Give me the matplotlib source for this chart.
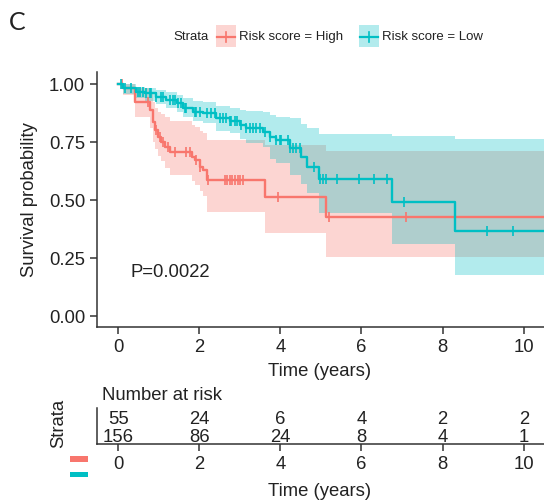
import numpy as np
import matplotlib
matplotlib.use("Agg")
import matplotlib.pyplot as plt
from matplotlib.patches import Rectangle
from matplotlib.lines import Line2D

plt.rcParams['font.family'] = ['Liberation Sans', 'DejaVu Sans']

# --- values ---
strata = ['Risk score = High', 'Risk score = Low']
colors = ['#F8766D', '#00BFC4']

high_t = [0, 0.12, 0.41, 0.78, 0.85, 0.90, 0.99, 1.07, 1.15, 1.27, 1.81, 1.89, 2.01, 2.10, 2.19, 3.61, 5.13]
high_s = [1.0, 0.985, 0.925, 0.889, 0.839, 0.803, 0.774, 0.753, 0.728, 0.710, 0.688, 0.674, 0.645, 0.631, 0.588, 0.515, 0.427]
high_lo = [1.0, 0.955, 0.86, 0.81, 0.75, 0.72, 0.69, 0.67, 0.64, 0.61, 0.585, 0.565, 0.54, 0.52, 0.45, 0.358, 0.257]
high_hi = [1.0, 1.0, 0.985, 0.96, 0.925, 0.90, 0.88, 0.87, 0.86, 0.84, 0.825, 0.815, 0.80, 0.79, 0.76, 0.738, 0.714]
high_cens = [0.09, 0.74, 0.94, 1.03, 1.11, 1.23, 1.40, 1.68, 1.77, 1.93, 2.01, 2.22, 2.63, 2.68, 2.75,
             2.81, 2.88, 2.95, 3.01, 3.08, 3.94, 5.20, 7.10]

low_t = [0, 0.12, 0.45, 0.66, 0.94, 1.19, 1.44, 1.60, 1.85, 2.09, 2.42, 2.75, 3.00, 3.16, 3.57, 3.74,
         3.90, 4.23, 4.50, 4.66, 4.96, 6.76, 8.31]
low_s = [1.0, 0.983, 0.968, 0.961, 0.947, 0.932, 0.918, 0.897, 0.882, 0.875, 0.853, 0.843, 0.825, 0.810,
         0.796, 0.774, 0.760, 0.724, 0.688, 0.642, 0.592, 0.491, 0.369]
low_lo = [1.0, 0.96, 0.94, 0.93, 0.915, 0.897, 0.88, 0.86, 0.843, 0.835, 0.80, 0.79, 0.765, 0.745, 0.73,
          0.68, 0.66, 0.61, 0.57, 0.53, 0.444, 0.312, 0.178]
low_hi = [1.0, 1.0, 0.99, 0.985, 0.975, 0.965, 0.955, 0.94, 0.93, 0.922, 0.905, 0.897, 0.89, 0.886,
          0.882, 0.868, 0.858, 0.853, 0.83, 0.81, 0.786, 0.777, 0.764]
low_cens = [0.08, 0.16, 0.33, 0.49, 0.53, 0.62, 0.70, 0.78, 0.82, 0.94, 1.07, 1.11, 1.27, 1.36, 1.40,
            1.48, 1.56, 1.64, 1.68, 1.89, 1.93, 2.01, 2.18, 2.30, 2.38, 2.51, 2.59, 2.67, 2.75, 2.79,
            2.87, 2.92, 3.04, 3.16, 3.24, 3.33, 3.41, 3.49, 3.61, 3.74, 3.90, 3.98, 4.02, 4.19, 4.23,
            4.31, 4.39, 4.48, 4.82, 4.98, 5.05, 5.13, 5.40, 5.95, 6.31, 6.63, 7.06, 9.10, 9.73]

risk_times = [0, 2, 4, 6, 8, 10]
risk_high = [55, 24, 6, 4, 2, 2]
risk_low = [156, 86, 24, 8, 4, 1]
p_text = 'P=0.0022'

W, H = 544, 504
fig = plt.figure(figsize=(W / 100, H / 100), dpi=100)

def fx(px):
    return px / W

def fy(py):
    return 1 - py / H

txt = '#222222'
spc = '#333333'
fs = 13.3
xmax = 10.5

ax = fig.add_axes([fx(97), fy(327), fx(544) - fx(97), fy(72) - fy(327)])
curves = [(high_t, high_s, high_lo, high_hi, high_cens), (low_t, low_s, low_lo, low_hi, low_cens)]
for (t, s, lo, hi, cens), c in zip(curves, colors):
    tt = np.append(t, xmax)
    ss = np.append(s, s[-1])
    ax.fill_between(tt, np.append(lo, lo[-1]), np.append(hi, hi[-1]), step='post',
                    color=c, alpha=0.3, linewidth=0)
    ax.step(tt, ss, where='post', color=c, lw=1.7)
    idx = np.searchsorted(t, cens, side='right') - 1
    ax.plot(cens, np.array(s)[idx], linestyle='none', marker='|', color=c, ms=7, mew=1.2)

ax.text(0.3, 0.19, p_text, fontsize=fs, color=txt, va='center')
ax.set_xlim(-0.52, xmax)
ax.set_ylim(-0.046, 1.053)
ax.set_xticks(risk_times)
ax.set_yticks([0, 0.25, 0.5, 0.75, 1.0])
ax.set_yticklabels(['0.00', '0.25', '0.50', '0.75', '1.00'])
for sp in ['top', 'right']:
    ax.spines[sp].set_visible(False)
for sp in ['left', 'bottom']:
    ax.spines[sp].set_color(spc)
    ax.spines[sp].set_linewidth(1.1)
ax.tick_params(colors=spc, labelcolor=txt, labelsize=fs, length=5, width=1.1)
fig.text(fx(320), fy(372), 'Time (years)', fontsize=fs, color=txt, ha='center', va='center')
fig.text(fx(30), fy(200), 'Survival probability', fontsize=fs, color=txt, ha='center',
         va='center', rotation=90)

# panel letter
fig.text(fx(9), fy(23), 'C', fontsize=18, color=txt, va='center', family=['Lato', 'DejaVu Sans'])

# legend
fig.text(fx(173), fy(37), 'Strata', fontsize=9.5, color=txt, va='center')
for x0, name, c in zip([216, 359], strata, colors):
    fig.add_artist(Rectangle((fx(x0), fy(47)), fx(20), fy(25) - fy(47), transform=fig.transFigure,
                             facecolor=c, alpha=0.3, edgecolor='none'))
    fig.add_artist(Line2D([fx(x0 + 1), fx(x0 + 19)], [fy(37), fy(37)], transform=fig.transFigure,
                          color=c, lw=1.6))
    fig.add_artist(Line2D([fx(x0 + 10), fx(x0 + 10)], [fy(32), fy(42)], transform=fig.transFigure,
                          color=c, lw=1.2))
    fig.text(fx(x0 + 23), fy(37), name, fontsize=9.5, color=txt, va='center')

# risk table
ax2 = fig.add_axes([fx(97), fy(444), fx(544) - fx(97), fy(408) - fy(444)])
ax2.set_xlim(ax.get_xlim())
ax2.set_ylim(0, 1)
for xt, a, b in zip(risk_times, risk_high, risk_low):
    ax2.text(xt, 0.68, str(a), fontsize=fs, color=txt, ha='center', va='center')
    ax2.text(xt, 0.18, str(b), fontsize=fs, color=txt, ha='center', va='center')
ax2.set_xticks(risk_times)
ax2.set_yticks([])
for sp in ['top', 'right']:
    ax2.spines[sp].set_visible(False)
for sp in ['left', 'bottom']:
    ax2.spines[sp].set_color(spc)
    ax2.spines[sp].set_linewidth(1.1)
ax2.tick_params(colors=spc, labelcolor=txt, labelsize=fs, length=5, width=1.1)
fig.text(fx(102), fy(395), 'Number at risk', fontsize=fs, color=txt, va='center')
fig.text(fx(59), fy(423), 'Strata', fontsize=fs, color=txt, ha='center', va='center', rotation=90)
for yy, c in zip([459, 474.5], colors):
    fig.add_artist(Rectangle((fx(70), fy(yy + 2.7)), fx(18), fy(yy - 2.7) - fy(yy + 2.7),
                             transform=fig.transFigure, facecolor=c, edgecolor='none'))
fig.text(fx(320), fy(492), 'Time (years)', fontsize=fs, color=txt, ha='center', va='center')

fig.savefig('out.png', dpi=100)
